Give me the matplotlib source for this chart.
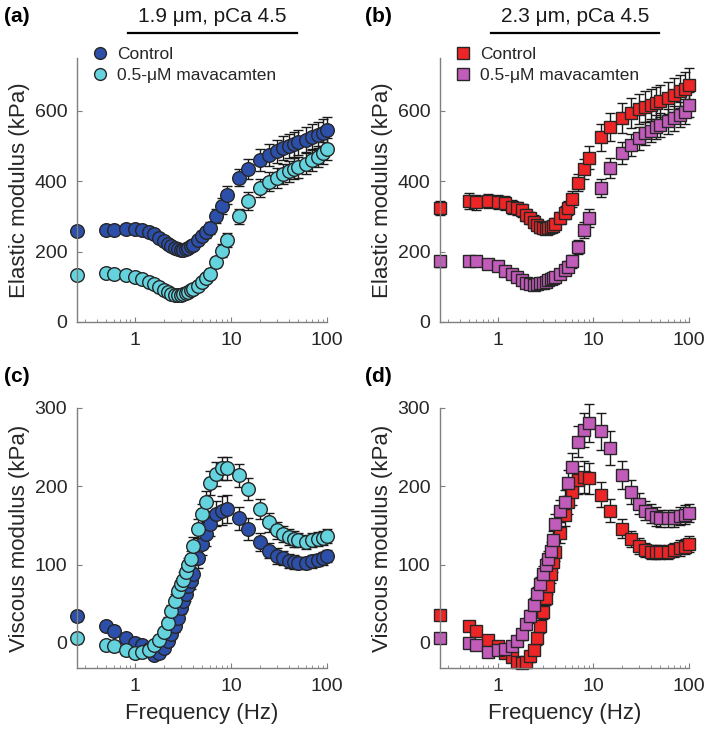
import numpy as np
import matplotlib.pyplot as plt
from matplotlib.lines import Line2D
from matplotlib.ticker import LogLocator, NullFormatter, FixedLocator

plt.rcParams['font.family'] = ['Liberation Sans', 'DejaVu Sans']

# frequencies (Hz)
freq = [0.25, 0.5, 0.6, 0.8, 1, 1.2, 1.4, 1.6, 1.8, 2, 2.2, 2.4, 2.6, 2.8, 3, 3.2, 3.4, 3.6, 3.8, 4,
        4.5, 5, 5.5, 6, 7, 8, 9, 12, 15, 20, 25, 30, 35, 40, 45, 50, 60, 70, 80, 90, 100]

# elastic modulus, 1.9 um
ctrl_a = [258, 262, 262, 265, 263, 260, 255, 250, 240, 230, 222, 215, 210, 207, 205, 204, 206, 210, 215, 220,
          232, 245, 255, 268, 300, 330, 360, 410, 435, 460, 475, 485, 495, 500, 505, 510, 518, 525, 532, 538, 545]
err_ctrl_a = [12, 10, 10, 10, 10, 10, 10, 10, 10, 10, 10, 10, 10, 10, 10, 10, 10, 10, 10, 12,
              12, 14, 15, 17, 20, 22, 25, 25, 28, 32, 32, 33, 34, 35, 35, 36, 36, 37, 37, 38, 38]
mav_a = [133, 138, 135, 133, 127, 122, 115, 108, 100, 92, 85, 80, 77, 76, 77, 79, 82, 86, 90, 95,
         103, 115, 125, 136, 170, 203, 233, 300, 343, 380, 398, 410, 420, 428, 435, 440, 450, 460, 470, 480, 492]
err_mav_a = [10, 8, 8, 8, 8, 8, 8, 8, 8, 8, 8, 8, 8, 8, 8, 8, 8, 8, 8, 8,
             10, 10, 12, 14, 15, 18, 20, 22, 25, 25, 27, 28, 28, 29, 30, 30, 30, 31, 31, 32, 32]

# elastic modulus, 2.3 um
ctrl_b = [323, 344, 340, 344, 342, 337, 328, 323, 317, 304, 295, 285, 276, 269, 266, 265, 267, 269, 273, 279,
          295, 311, 323, 349, 396, 434, 467, 525, 555, 579, 593, 605, 612, 617, 622, 627, 636, 645, 655, 663, 674]
err_ctrl_b = [20, 22, 22, 20, 20, 20, 20, 18, 18, 18, 18, 18, 16, 16, 16, 16, 16, 16, 16, 16,
              18, 18, 20, 22, 25, 28, 32, 38, 40, 42, 42, 43, 44, 45, 45, 46, 46, 47, 47, 48, 48]
mav_b = [172, 172, 174, 165, 159, 146, 137, 129, 119, 112, 108, 105, 107, 110, 112, 115, 118, 121, 124, 129,
         137, 148, 157, 172, 214, 262, 295, 380, 437, 480, 503, 522, 536, 544, 554, 560, 570, 579, 589, 598, 617]
err_mav_b = [15, 12, 12, 12, 12, 12, 12, 12, 12, 12, 12, 12, 12, 12, 12, 12, 12, 12, 12, 12,
             14, 14, 16, 18, 20, 22, 25, 25, 28, 30, 30, 32, 32, 33, 34, 34, 35, 35, 36, 36, 36]

# viscous modulus, 1.9 um
ctrl_c = [34, 21, 15, 6, 0, -3, -8, -15, -13, -6, 2, 11, 21, 32, 45, 54, 62, 73, 79, 88,
          108, 126, 139, 152, 165, 169, 171, 159, 146, 129, 118, 111, 108, 105, 103, 102, 102, 104, 106, 108, 111]
err_ctrl_c = [6, 6, 6, 6, 6, 6, 6, 6, 6, 6, 6, 6, 7, 7, 8, 8, 9, 10, 10, 11,
              12, 14, 15, 16, 16, 18, 18, 15, 14, 12, 10, 10, 9, 9, 9, 8, 8, 8, 8, 8, 8]
mav_c = [6, -3, -4, -9, -13, -12, -9, -3, 4, 14, 26, 41, 54, 66, 75, 81, 90, 99, 107, 124,
         146, 165, 180, 204, 216, 223, 223, 214, 197, 171, 154, 144, 139, 135, 133, 131, 129, 131, 133, 134, 136]
err_mav_c = [6, 6, 6, 6, 6, 6, 6, 6, 6, 6, 7, 7, 8, 8, 8, 9, 9, 10, 10, 11,
             12, 13, 14, 15, 15, 15, 15, 15, 14, 13, 12, 11, 10, 10, 10, 9, 9, 9, 9, 9, 9]

# viscous modulus, 2.3 um
ctrl_d = [36, 21, 15, 4, -4, -13, -18, -24, -26, -24, -17, -9, 6, 21, 39, 58, 73, 88, 103, 116,
          141, 163, 180, 193, 208, 212, 210, 189, 169, 146, 133, 124, 119, 116, 116, 116, 116, 119, 121, 123, 126]
err_ctrl_d = [6, 6, 6, 6, 6, 6, 6, 6, 6, 6, 7, 7, 8, 8, 9, 10, 10, 11, 12, 12,
              13, 14, 15, 17, 18, 20, 20, 16, 15, 12, 10, 10, 9, 9, 9, 9, 9, 9, 10, 10, 10]
mav_d = [6, 0, -2, -11, -9, -8, -4, 2, 11, 24, 34, 49, 62, 75, 88, 99, 107, 118, 131, 152,
         169, 180, 204, 225, 257, 272, 281, 270, 249, 214, 193, 178, 169, 165, 161, 159, 159, 159, 162, 164, 166]
err_mav_d = [6, 6, 6, 6, 6, 6, 6, 6, 7, 7, 8, 8, 9, 9, 10, 10, 11, 11, 12, 13,
             14, 15, 17, 18, 20, 22, 24, 24, 22, 18, 15, 13, 12, 12, 12, 11, 11, 11, 12, 12, 12]

blue, cyan = '#2c4fa9', '#64d3de'
red, purple = '#ee2526', '#c25cba'
edge = '#262626'
W, H = 709, 734


def px_axes(fig, left, top, right, bottom):
    return fig.add_axes([left / W, 1 - bottom / H, (right - left) / W, (bottom - top) / H])


def style(ax, ylim, yticks, ylabel, xlabel=None):
    ax.set_xscale('log')
    ax.set_xlim(0.25, 100)
    ax.set_ylim(*ylim)
    ax.set_yticks(yticks)
    ax.xaxis.set_major_locator(FixedLocator([1, 10, 100]))
    ax.set_xticklabels(['1', '10', '100'])
    ax.xaxis.set_minor_locator(LogLocator(base=10, subs=np.arange(2, 10)))
    ax.xaxis.set_minor_formatter(NullFormatter())
    for s in ['top', 'right']:
        ax.spines[s].set_visible(False)
    for s in ['left', 'bottom']:
        ax.spines[s].set_color('#7f7f7f')
        ax.spines[s].set_linewidth(1.0)
    ax.tick_params(which='both', direction='in', color='#7f7f7f', labelsize=14, labelcolor='#262626')
    ax.tick_params(which='major', length=3.5, pad=7)
    ax.tick_params(which='minor', length=2)
    ax.set_ylabel(ylabel, fontsize=16, color='#262626', labelpad=3)
    if xlabel:
        ax.set_xlabel(xlabel, fontsize=16, color='#262626', labelpad=6)


def series(ax, y, err, color, marker, ms):
    ax.errorbar(freq, y, yerr=err, fmt=marker, ms=ms, mfc=color, mec=edge, mew=1.0,
                ecolor='#1a1a1a', elinewidth=1.0, capsize=3.6, capthick=1.0, clip_on=False)


fig = plt.figure(figsize=(W / 100, H / 100), dpi=100)

ax_a = px_axes(fig, 77, 58, 327, 322)
ax_b = px_axes(fig, 440, 58, 689, 322)
ax_c = px_axes(fig, 77, 408, 327, 668)
ax_d = px_axes(fig, 440, 408, 689, 668)

series(ax_a, ctrl_a, err_ctrl_a, blue, 'o', 9.8)
series(ax_a, mav_a, err_mav_a, cyan, 'o', 9.8)
series(ax_b, ctrl_b, err_ctrl_b, red, 's', 8.8)
series(ax_b, mav_b, err_mav_b, purple, 's', 8.8)
series(ax_c, ctrl_c, err_ctrl_c, blue, 'o', 9.8)
series(ax_c, mav_c, err_mav_c, cyan, 'o', 9.8)
series(ax_d, ctrl_d, err_ctrl_d, red, 's', 8.8)
series(ax_d, mav_d, err_mav_d, purple, 's', 8.8)

style(ax_a, (0, 750), [0, 200, 400, 600], 'Elastic modulus (kPa)')
style(ax_b, (0, 750), [0, 200, 400, 600], 'Elastic modulus (kPa)')
style(ax_c, (-32, 300), [0, 100, 200, 300], 'Viscous modulus (kPa)', 'Frequency (Hz)')
style(ax_d, (-32, 300), [0, 100, 200, 300], 'Viscous modulus (kPa)', 'Frequency (Hz)')

# legends
for ax, c1, c2, m in [(ax_a, blue, cyan, 'o'), (ax_b, red, purple, 's')]:
    h = [Line2D([], [], ls='', marker=m, ms=8.5, mfc=c1, mec=edge, mew=1.0),
         Line2D([], [], ls='', marker=m, ms=8.5, mfc=c2, mec=edge, mew=1.0)]
    ax.legend(h, ['Control', '0.5-\u03bcM mavacamten'], loc='upper left', bbox_to_anchor=(0.03, 1.07),
              frameon=False, fontsize=12.5, handlelength=1.0, handletextpad=0.5, labelspacing=0.35,
              borderaxespad=0, labelcolor='#262626')

# condition headers with underline
for xc, x0, x1, txt in [(212, 128, 297, '1.9 \u03bcm, pCa 4.5'), (575, 491, 659, '2.3 \u03bcm, pCa 4.5')]:
    fig.text(xc / W, 1 - 17 / H, txt, ha='center', va='center', fontsize=15, color='#1a1a1a')
    fig.add_artist(Line2D([x0 / W, x1 / W], [1 - 33 / H, 1 - 33 / H], color='black', lw=1.6))

# panel letters
for x, y, lab in [(4, 17, '(a)'), (365, 17, '(b)'), (4, 377, '(c)'), (365, 377, '(d)')]:
    fig.text(x / W, 1 - y / H, lab, ha='left', va='center', fontsize=15, fontweight='bold')

plt.savefig('out.png', dpi=100)
